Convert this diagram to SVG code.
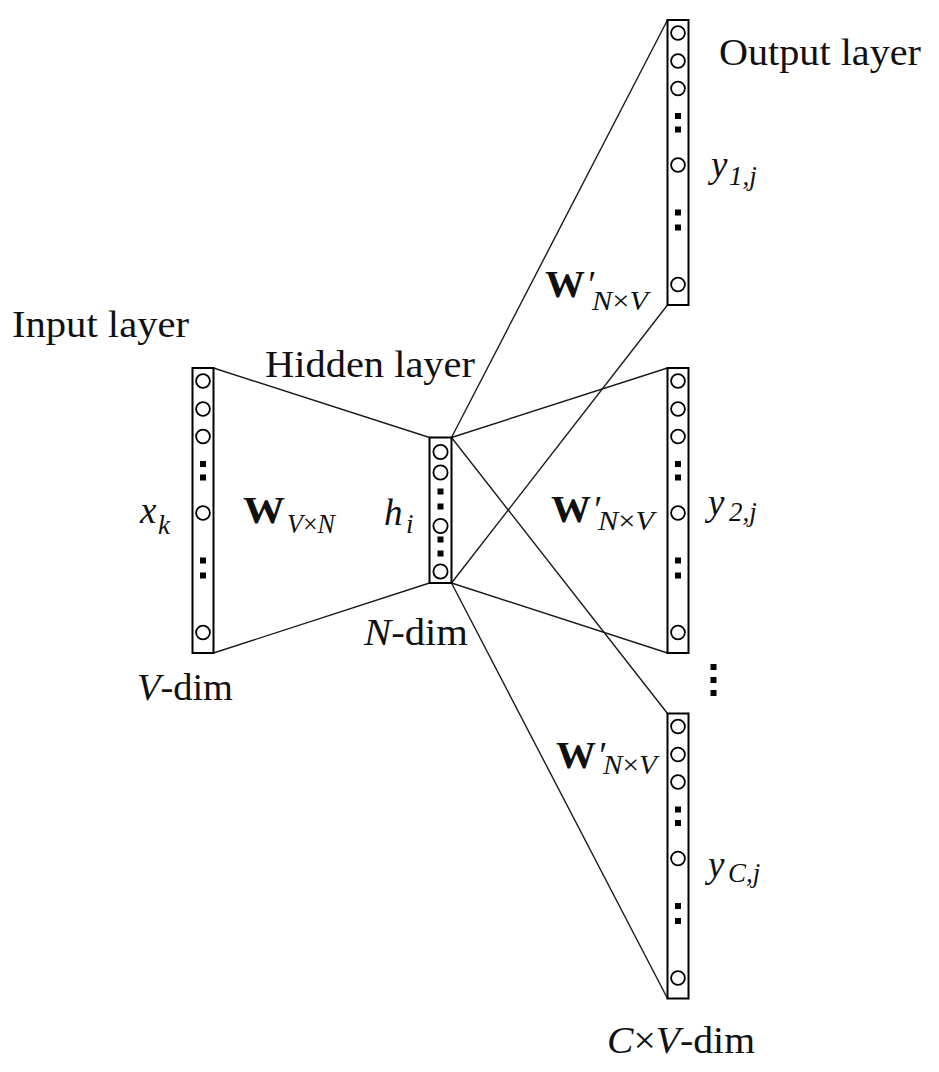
<svg xmlns="http://www.w3.org/2000/svg" width="939" height="1072" viewBox="0 0 939 1072">
<style>
.box{fill:#fff;stroke:#000;stroke-width:2}
.c{fill:none;stroke:#000;stroke-width:1.8}
.sq{fill:#000}
.ln{stroke:#1a1a1a;stroke-width:1.4;fill:none}
text{font-family:"Liberation Serif","Times New Roman","Nimbus Roman","Tinos",Times,serif;fill:#111}
.t{font-size:37px}
.i{font-style:italic}
.b{font-weight:bold}
.s{font-size:27px;font-style:italic}
</style>
<defs>
<g id="col">
<rect class="box" x="0" y="0" width="21" height="285"/>
<circle class="c" cx="10.5" cy="13" r="6.9"/>
<circle class="c" cx="10.5" cy="41" r="6.9"/>
<circle class="c" cx="10.5" cy="68.5" r="6.9"/>
<rect class="sq" x="7.5" y="93" width="6" height="6"/>
<rect class="sq" x="7.5" y="106.5" width="6" height="6"/>
<circle class="c" cx="10.5" cy="145" r="6.9"/>
<rect class="sq" x="7.5" y="189.5" width="6" height="6"/>
<rect class="sq" x="7.5" y="204.5" width="6" height="6"/>
<circle class="c" cx="10.5" cy="264.5" r="6.9"/>
</g>
</defs>
<g id="connectors">
<line class="ln" x1="213.5" y1="368" x2="429.5" y2="437.5"/>
<line class="ln" x1="213.5" y1="653" x2="429.5" y2="583"/>
<line class="ln" x1="451.5" y1="437.5" x2="667.5" y2="20"/>
<line class="ln" x1="451.5" y1="437.5" x2="667.5" y2="368"/>
<line class="ln" x1="451.5" y1="437.5" x2="667.5" y2="713.5"/>
<line class="ln" x1="451.5" y1="583" x2="667.5" y2="305"/>
<line class="ln" x1="451.5" y1="583" x2="667.5" y2="653"/>
<line class="ln" x1="451.5" y1="583" x2="667.5" y2="998.5"/>
</g>
<g id="input-layer">
<use href="#col" x="192.5" y="368"/>
<text class="t" x="12" y="337" textLength="177" lengthAdjust="spacingAndGlyphs">Input layer</text>
<text class="t i" x="140" y="523">x</text>
<text class="s" x="158" y="534">k</text>
<text class="t i" x="137" y="700" textLength="96" lengthAdjust="spacingAndGlyphs">V<tspan font-style="normal">-dim</tspan></text>
</g>
<g id="weights-in">
<text class="t b" x="243" y="523" textLength="42" lengthAdjust="spacingAndGlyphs">W</text>
<text class="s" x="287" y="533" textLength="48" lengthAdjust="spacingAndGlyphs">V<tspan font-style="normal">×</tspan>N</text>
</g>
<g id="hidden-layer">
<rect class="box" x="429.5" y="437.5" width="22" height="145.5"/>
<circle class="c" cx="440.5" cy="452" r="7.1"/>
<circle class="c" cx="440.5" cy="472.5" r="7.1"/>
<rect class="sq" x="437.5" y="488.5" width="6" height="6"/>
<rect class="sq" x="437.5" y="503.5" width="6" height="6"/>
<circle class="c" cx="440.5" cy="526" r="7.1"/>
<rect class="sq" x="437.5" y="536.5" width="6" height="6"/>
<rect class="sq" x="437.5" y="550.5" width="6" height="6"/>
<circle class="c" cx="440.5" cy="571.5" r="7.1"/>
<text class="t" x="265" y="377" textLength="210" lengthAdjust="spacingAndGlyphs">Hidden layer</text>
<text class="t i" x="384" y="525">h</text>
<text class="s" x="406" y="533">i</text>
<text class="t i" x="364" y="645" textLength="104" lengthAdjust="spacingAndGlyphs">N<tspan font-style="normal">-dim</tspan></text>
</g>
<g id="output-1">
<use href="#col" x="667.5" y="20"/>
<text class="t" x="719" y="65" textLength="202" lengthAdjust="spacingAndGlyphs">Output layer</text>
<text class="t i" x="711" y="177">y</text>
<text class="s" x="729" y="185">1,j</text>
<text class="t b" x="545" y="297" textLength="40" lengthAdjust="spacingAndGlyphs">W</text>
<text class="t i" x="586" y="297">′</text>
<text class="s" x="592" y="310" textLength="56" lengthAdjust="spacingAndGlyphs">N<tspan font-style="normal">×</tspan>V</text>
</g>
<g id="output-2">
<use href="#col" x="667.5" y="368"/>
<text class="t i" x="708" y="515">y</text>
<text class="s" x="729" y="521">2,j</text>
<text class="t b" x="551" y="522" textLength="40" lengthAdjust="spacingAndGlyphs">W</text>
<text class="t i" x="592" y="522">′</text>
<text class="s" x="598" y="530" textLength="56" lengthAdjust="spacingAndGlyphs">N<tspan font-style="normal">×</tspan>V</text>
</g>
<g id="ellipsis">
<rect class="sq" x="710.5" y="664" width="6" height="6"/>
<rect class="sq" x="710.5" y="677" width="6" height="6"/>
<rect class="sq" x="710.5" y="690" width="6" height="6"/>
</g>
<g id="output-C">
<use href="#col" x="667.5" y="713.5"/>
<text class="t i" x="708" y="877">y</text>
<text class="s" x="728" y="882">C,j</text>
<text class="t b" x="556" y="768" textLength="40" lengthAdjust="spacingAndGlyphs">W</text>
<text class="t i" x="597" y="768">′</text>
<text class="s" x="603" y="774" textLength="54" lengthAdjust="spacingAndGlyphs">N<tspan font-style="normal">×</tspan>V</text>
<text class="t i" x="607" y="1053" textLength="148" lengthAdjust="spacingAndGlyphs">C<tspan font-style="normal">×</tspan>V<tspan font-style="normal">-dim</tspan></text>
</g>
</svg>
